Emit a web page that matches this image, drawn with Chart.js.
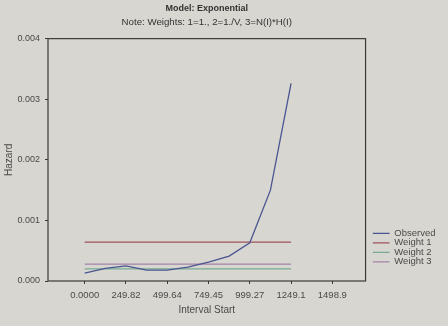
<!DOCTYPE html>
<html>
<head>
<meta charset="utf-8">
<script src="https://cdn.jsdelivr.net/npm/chart.js@4"></script>
<style>
  html, body { margin: 0; padding: 0; background: #d7d6d0; }
  #wrap { width: 448px; height: 326px; }
</style>
</head>
<body>
<div id="wrap"><canvas id="chart" width="448" height="326"></canvas></div>
<script>
// interval starts and observed hazard
const intervalStart = [0, 124.91, 249.82, 374.73, 499.64, 624.55, 749.45, 874.36, 999.27, 1124.2, 1249.1];
const observed = [0.00013, 0.00021, 0.00025, 0.00018, 0.00018, 0.00023, 0.00031, 0.00041, 0.00063, 0.0015, 0.00326];

// fitted exponential hazard for the three weightings (flat lines)
const weight1 = [0.00064, 0.00064];
const weight2 = [0.0002, 0.0002];
const weight3 = [0.00028, 0.00028];
const fitRange = [0, 1249.1];

const xTicks = [0, 249.82, 499.64, 749.45, 999.27, 1249.1, 1498.9];
const xTickLabels = ["0.0000", "249.82", "499.64", "749.45", "999.27", "1249.1", "1498.9"];
const yTicks = [0, 0.001, 0.002, 0.003, 0.004];

const pts = (xs, ys) => xs.map((x, i) => ({ x: x, y: ys[i] }));

const font = (size) => ({ family: "Liberation Sans", size: size });

const frame = {
  id: "frame",
  afterDraw(chart) {
    const { ctx, chartArea: a } = chart;
    ctx.save();
    ctx.strokeStyle = "#3a3a3a";
    ctx.lineWidth = 1.2;
    ctx.strokeRect(a.left, a.top, a.right - a.left, a.bottom - a.top);
    ctx.restore();
  }
};

const lineStyle = (label, data, color) => ({
  label: label,
  data: data,
  showLine: true,
  borderColor: color,
  backgroundColor: color,
  borderWidth: 1.3,
  pointRadius: 0,
  tension: 0
});

new Chart(document.getElementById("chart"), {
  type: "scatter",
  data: {
    datasets: [
      lineStyle("Observed", pts(intervalStart, observed), "#4b5592"),
      lineStyle("Weight 1", pts(fitRange, weight1), "#a0525c"),
      lineStyle("Weight 2", pts(fitRange, weight2), "#78ab95"),
      lineStyle("Weight 3", pts(fitRange, weight3), "#a383aa")
    ]
  },
  options: {
    responsive: false,
    animation: false,
    layout: { padding: { top: 0, right: 2.5, bottom: 10, left: 3 } },
    scales: {
      x: {
        type: "linear",
        min: -222,
        max: 1700,
        afterBuildTicks: (axis) => { axis.ticks = xTicks.map(v => ({ value: v })); },
        afterFit: (axis) => { axis.height = 35; },
        ticks: {
          color: "#4a4a4a",
          font: font(9.5),
          padding: 6,
          maxRotation: 0,
          callback: (v) => xTickLabels[xTicks.indexOf(v)]
        },
        grid: { drawOnChartArea: false, tickLength: 3, color: "#3a3a3a" },
        border: { display: false },
        title: {
          display: true,
          text: "Interval Start",
          color: "#4a4a4a",
          font: font(10),
          padding: { top: 4, bottom: 0 }
        }
      },
      y: {
        min: 0,
        max: 0.004,
        afterBuildTicks: (axis) => { axis.ticks = yTicks.map(v => ({ value: v })); },
        afterFit: (axis) => { axis.width = 45; },
        ticks: {
          color: "#4a4a4a",
          font: font(9),
          padding: 5,
          callback: (v) => v.toFixed(3)
        },
        grid: { drawOnChartArea: false, tickLength: 3, color: "#3a3a3a" },
        border: { display: false },
        title: {
          display: true,
          text: "Hazard",
          color: "#4a4a4a",
          font: font(10),
          padding: { top: 0, bottom: 2 }
        }
      },
      // empty right-hand axis, only keeps a gap between plot and legend
      gap: {
        type: "linear",
        position: "right",
        display: true,
        afterFit: (axis) => { axis.width = 7; },
        ticks: { display: false },
        grid: { display: false },
        border: { display: false }
      }
    },
    plugins: {
      title: {
        display: true,
        fullSize: false,
        text: "Model: Exponential",
        color: "#333",
        font: { family: "Liberation Sans", size: 9, weight: "bold" },
        padding: { top: 3, bottom: 2 }
      },
      subtitle: {
        display: true,
        fullSize: false,
        text: "Note: Weights: 1=1., 2=1./V, 3=N(I)*H(I)",
        color: "#333",
        font: font(9.7),
        padding: { top: 1, bottom: 10.2 }
      },
      legend: {
        position: "right",
        align: "start",
        title: {
          display: true,
          text: " ",
          font: font(8),
          padding: { top: 219, bottom: 0 }
        },
        labels: {
          usePointStyle: true,
          pointStyle: "line",
          pointStyleWidth: 17,
          boxWidth: 17,
          padding: 0,
          color: "#4a4a4a",
          font: font(9.5)
        }
      },
      tooltip: { enabled: false }
    }
  },
  plugins: [frame]
});
</script>
</body>
</html>
